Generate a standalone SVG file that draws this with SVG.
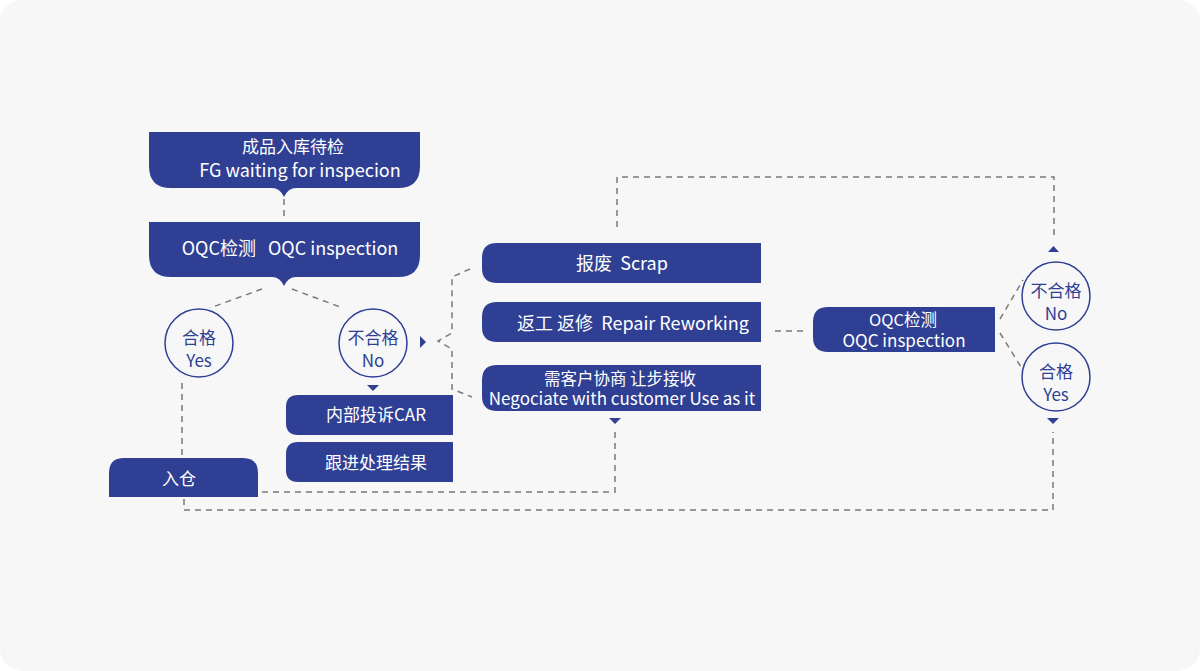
<svg xmlns="http://www.w3.org/2000/svg" width="1200" height="671" viewBox="0 0 1200 671">
<style>
.box{fill:#2f3f94}
.t{font-family:"Noto Sans CJK SC","Noto Sans",sans-serif;fill:#ffffff;text-anchor:middle}
.ct{font-family:"Noto Sans CJK SC","Noto Sans",sans-serif;fill:#2f3f94;text-anchor:middle;font-size:17px}
.circ{fill:none;stroke:#2f3f94;stroke-width:1.5}
.dash{fill:none;stroke:#7a7a7a;stroke-width:1.5;stroke-dasharray:6 5}
.tri{fill:#2f3f94}
</style>
<rect width="1200" height="671" fill="#ffffff"/>
<rect x="0" y="0" width="1200" height="671" rx="22" fill="#f7f7f8"/>
<g id="connectors">
<path class="dash" d="M284 199 V216"/>
<path class="dash" d="M262 289 L210 308"/>
<path class="dash" d="M292 289 L343 308"/>
<path class="dash" d="M182 383 V455"/>
<path class="dash" d="M470 269 L452 277 V333 L438 341 L452 349 V389 L472 397"/>
<path class="dash" d="M262 492 H615 V430"/>
<path class="dash" d="M184 499 V510 H1053 V432"/>
<path class="dash" d="M617 227 V177 H1054 V240"/>
<path class="dash" d="M775 331 H805"/>
<path class="dash" d="M1000 319 L1023 280"/>
<path class="dash" d="M1000 333 L1021 367"/>
<polygon class="tri" points="420,336 426,342 420,348"/>
<polygon class="tri" points="367,385 379,385 373,391"/>
<polygon class="tri" points="609,418 621,418 615,424"/>
<polygon class="tri" points="1048,252 1059,252 1053.5,246"/>
<polygon class="tri" points="1047,418 1059,418 1053,424"/>
</g>
<g id="fg-waiting">
<path class="box" d="M149 132 H420 V166 Q420 188 398 188 H296 Q288 188 284 197 Q280 188 272 188 H171 Q149 188 149 166 Z"/>
<text class="t" x="293" y="153" font-size="17">成品入库待检</text>
<text class="t" x="300" y="177" font-size="18">FG waiting for inspecion</text>
</g>
<g id="oqc1">
<path class="box" d="M149 222 H420 V255 Q420 277 398 277 H296 Q288 277 284 286 Q280 277 272 277 H171 Q149 277 149 255 Z"/>
<text class="t" x="290" y="255" font-size="18" xml:space="preserve">OQC检测   OQC inspection</text>
</g>
<g id="yes1">
<circle class="circ" cx="199" cy="343" r="34"/>
<text class="ct" x="199" y="344">合格</text>
<text class="ct" x="199" y="367">Yes</text>
</g>
<g id="no1">
<circle class="circ" cx="373" cy="343" r="34"/>
<text class="ct" x="373" y="344">不合格</text>
<text class="ct" x="373" y="367">No</text>
</g>
<g id="car">
<path class="box" d="M298 395 H453 V435 H298 Q286 435 286 423 V407 Q286 395 298 395 Z"/>
<text class="t" x="376" y="421" font-size="17">内部投诉CAR</text>
</g>
<g id="follow">
<path class="box" d="M298 442 H453 V482 H298 Q286 482 286 470 V454 Q286 442 298 442 Z"/>
<text class="t" x="376" y="469" font-size="17">跟进处理结果</text>
</g>
<g id="warehouse">
<path class="box" d="M124 458 H243 Q258 458 258 473 V497 H109 V473 Q109 458 124 458 Z"/>
<text class="t" x="179" y="485" font-size="17">入仓</text>
</g>
<g id="scrap">
<path class="box" d="M497 243 H761 V283 H497 Q482 283 482 268 V258 Q482 243 497 243 Z"/>
<text class="t" x="622" y="270" font-size="18" xml:space="preserve">报废  Scrap</text>
</g>
<g id="repair">
<path class="box" d="M497 302 H761 V342 H497 Q482 342 482 327 V317 Q482 302 497 302 Z"/>
<text class="t" x="633" y="330" font-size="18" xml:space="preserve">返工 返修  Repair Reworking</text>
</g>
<g id="negotiate">
<path class="box" d="M497 365 H761 V411 H497 Q482 411 482 396 V380 Q482 365 497 365 Z"/>
<text class="t" x="620" y="385" font-size="16.5">需客户协商 让步接收</text>
<text class="t" x="622" y="405" font-size="17">Negociate with customer Use as it</text>
</g>
<g id="oqc2">
<path class="box" d="M828 307 H995 V352 H828 Q813 352 813 337 V322 Q813 307 828 307 Z"/>
<text class="t" x="903" y="326" font-size="16.5">OQC检测</text>
<text class="t" x="904" y="347" font-size="17">OQC inspection</text>
</g>
<g id="no2">
<circle class="circ" cx="1056" cy="296" r="34"/>
<text class="ct" x="1056" y="297">不合格</text>
<text class="ct" x="1056" y="320">No</text>
</g>
<g id="yes2">
<circle class="circ" cx="1056" cy="377" r="34"/>
<text class="ct" x="1056" y="378">合格</text>
<text class="ct" x="1056" y="401">Yes</text>
</g>
</svg>
